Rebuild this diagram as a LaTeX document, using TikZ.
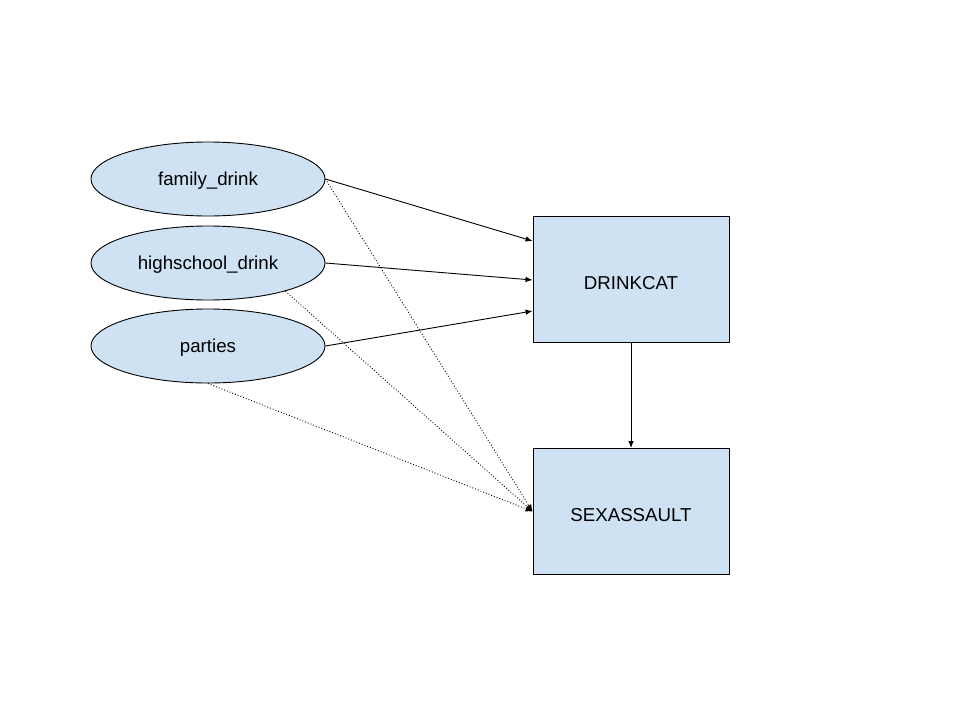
\documentclass[tikz,border=0pt]{standalone}
\usepackage{fontspec}
\setmainfont{Liberation Sans}
\usetikzlibrary{arrows.meta,shapes.geometric}
\definecolor{nodefill}{HTML}{CFE2F3}
\tikzset{
  oval/.style={ellipse,draw=black,line width=0.9pt,fill=nodefill,minimum width=234pt,minimum height=74pt,inner sep=0pt,text height=14pt,text depth=2pt,font=\fontsize{18.7pt}{22pt}\selectfont},
  varbox/.style={rectangle,draw=black,line width=0.9pt,fill=nodefill,minimum width=196pt,minimum height=126pt,inner sep=0pt,text height=20pt,text depth=0pt,font=\fontsize{18.7pt}{22pt}\selectfont},
  solidarrow/.style={line width=0.9pt,-{Latex[length=7pt,width=5.5pt]}},
  dotarrow/.style={line width=0.9pt,dotted,-{Latex[length=7pt,width=5.5pt]}}
}
\begin{document}
\begin{tikzpicture}[x=1pt,y=-1pt]
\useasboundingbox (0,0) rectangle (960,720);
\node[oval] (fam) at (208,179) {family\_drink};
\node[oval] (hs) at (208,263) {highschool\_drink};
\node[oval] (par) at (208,346) {parties};
\node[varbox] (drink) at (631,279.5) {DRINKCAT};
\node[varbox] (sex) at (631,511.5) {SEXASSAULT};
\draw[solidarrow] (fam.east) -- ([yshift=38.5pt]drink.west);
\draw[solidarrow] (hs.east) -- ([yshift=-0.5pt]drink.west);
\draw[solidarrow] (par.east) -- ([yshift=-31.5pt]drink.west);
\draw[solidarrow] (drink.south) -- (sex.north);
\draw[dotarrow] (fam.east) -- (sex.west);
\draw[dotarrow] (hs.-20) -- (sex.west);
\draw[dotarrow] (par.south) -- (sex.west);
\end{tikzpicture}
\end{document}
